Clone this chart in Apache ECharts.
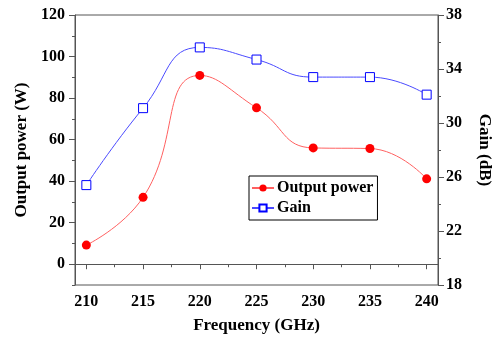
<!DOCTYPE html>
<html>
<head>
<meta charset="utf-8">
<script src="https://cdn.jsdelivr.net/npm/echarts@6/dist/echarts.min.js"></script>
<style>html,body{margin:0;padding:0;background:#fff;}#c{width:501px;height:339px;}</style>
</head>
<body>
<div id="c"></div>
<script>
var freq = [210, 215, 220, 225, 230, 235, 240];
var power = [9.2, 32.2, 90.9, 75.3, 56.0, 55.7, 41.1];
var gain = [25.4, 31.1, 35.6, 34.7, 33.4, 33.4, 32.1];
var xTicks = [210, 215, 220, 225, 230, 235, 240];
var xMinor = [212.5, 217.5, 222.5, 227.5, 232.5, 237.5];
var pTicks = [0, 20, 40, 60, 80, 100, 120];
var pMinor = [-10, 10, 30, 50, 70, 90, 110];
var gTicks = [18, 22, 26, 30, 34, 38];
var gMinor = [20, 24, 28, 32, 36];

var font = '"Liberation Serif", "Times New Roman", serif';
var axisColor = '#555';
var lbl = {fontFamily: font, fontWeight: 'bold', fontSize: 16, color: '#000'};

function pairs(ys) { return freq.map(function (f, i) { return [f, ys[i]]; }); }

var option = {
  animation: false,
  grid: {left: 75, right: 58, top: 15, bottom: 53, show: true, borderColor: axisColor, borderWidth: 1, backgroundColor: 'transparent'},
  legend: {
    left: 249, top: 176, width: 128, orient: 'vertical', itemGap: 4, itemWidth: 22, itemHeight: 9,
    padding: [4, 4, 4, 2], borderColor: '#000', borderWidth: 1, backgroundColor: '#fff',
    textStyle: {fontFamily: font, fontWeight: 'bold', fontSize: 16, color: '#000', padding: [0, 0, 0, -2]},
    data: ['Output power', 'Gain']
  },
  xAxis: [{
    type: 'value', min: 209, max: 241,
    name: 'Frequency (GHz)', nameLocation: 'middle', nameGap: 32,
    nameTextStyle: {fontFamily: font, fontWeight: 'bold', fontSize: 17, color: '#000'},
    axisLine: {show: true, lineStyle: {color: axisColor}},
    axisTick: {show: true, customValues: xTicks, length: 5, inside: false, lineStyle: {color: axisColor}},
    axisLabel: {customValues: xTicks, margin: 9, ...lbl},
    splitLine: {show: false}
  }, {
    type: 'value', min: 209, max: 241, position: 'bottom',
    axisLine: {show: false},
    axisTick: {show: true, customValues: xMinor, length: 3, lineStyle: {color: axisColor}},
    axisLabel: {show: false}, splitLine: {show: false}
  }],
  yAxis: [{
    type: 'value', min: -10, max: 120, position: 'left',
    name: 'Output power (W)', nameLocation: 'middle', nameGap: 43, nameRotate: 90,
    nameTextStyle: {fontFamily: font, fontWeight: 'bold', fontSize: 17, color: '#000'},
    axisLine: {show: true, lineStyle: {color: axisColor}},
    axisTick: {show: true, customValues: pTicks, length: 6, lineStyle: {color: axisColor}},
    axisLabel: {customValues: pTicks, margin: 10, ...lbl},
    splitLine: {show: false}
  }, {
    type: 'value', min: 18, max: 38, position: 'right',
    name: 'Gain (dB)', nameLocation: 'middle', nameGap: 38, nameRotate: -90,
    nameTextStyle: {fontFamily: font, fontWeight: 'bold', fontSize: 17, color: '#000'},
    axisLine: {show: true, lineStyle: {color: axisColor}},
    axisTick: {show: true, customValues: gTicks, length: 6, lineStyle: {color: axisColor}},
    axisLabel: {customValues: gTicks, margin: 8, ...lbl},
    splitLine: {show: false}
  }, {
    type: 'value', min: -10, max: 120, position: 'left',
    axisLine: {show: false},
    axisTick: {show: true, customValues: pMinor, length: 3, lineStyle: {color: axisColor}},
    axisLabel: {show: false}, splitLine: {show: false}
  }, {
    type: 'value', min: 18, max: 38, position: 'right',
    axisLine: {show: false},
    axisTick: {show: true, customValues: gMinor, length: 3, lineStyle: {color: axisColor}},
    axisLabel: {show: false}, splitLine: {show: false}
  }],
  series: [{
    name: 'Output power', type: 'line', xAxisIndex: 0, yAxisIndex: 0,
    data: pairs(power), smooth: 0.5,
    symbol: 'circle', symbolSize: 9,
    itemStyle: {color: '#ff0000', borderWidth: 0},
    lineStyle: {color: '#ff6060', width: 1}
  }, {
    name: 'Gain', type: 'line', xAxisIndex: 0, yAxisIndex: 1,
    data: pairs(gain), smooth: 0.5,
    symbol: 'rect', symbolSize: 9,
    itemStyle: {color: '#fff', borderColor: '#0000ff', borderWidth: 1},
    lineStyle: {color: '#4a4aff', width: 1}
  }]
};
var chart = echarts.init(document.getElementById('c'), null, {renderer: 'canvas'});
chart.setOption(option);
</script>
</body>
</html>
